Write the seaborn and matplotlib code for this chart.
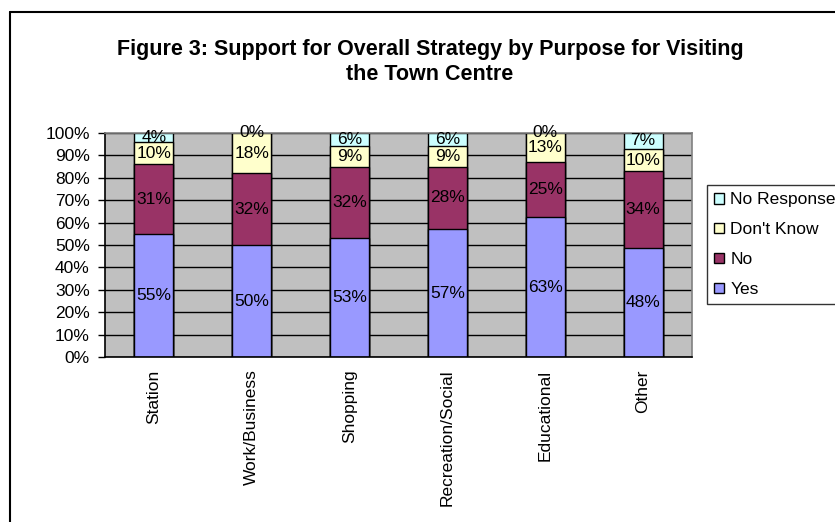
import numpy as np
import pandas as pd
import seaborn as sns
import matplotlib.pyplot as plt
from matplotlib.lines import Line2D
from matplotlib.ticker import PercentFormatter, MultipleLocator, FixedLocator

categories = ["Station", "Work/Business", "Shopping", "Recreation/Social", "Educational", "Other"]
yes = [55, 50, 53, 57, 63, 48]
no = [31, 32, 32, 28, 25, 34]
dont_know = [10, 18, 9, 9, 13, 10]
no_response = [4, 0, 6, 6, 0, 7]

series_names = ["Yes", "No", "Don't Know", "No Response"]
series_colors = ["#9999FF", "#993366", "#FFFFCC", "#CCFFFF"]

sns.set_style("white")
plt.rcParams['font.family'] = ['Liberation Sans', 'DejaVu Sans']
plt.rcParams['text.color'] = 'black'
plt.rcParams['xtick.color'] = 'black'
plt.rcParams['ytick.color'] = 'black'
plt.rcParams['xtick.labelcolor'] = 'black'
plt.rcParams['ytick.labelcolor'] = 'black'

FS = 12.5

df = pd.DataFrame({"Yes": yes, "No": no, "Don't Know": dont_know, "No Response": no_response},
                  index=categories)
# 100% stacked: normalise each row
share = df.div(df.sum(axis=1), axis=0) * 100
cum = share.cumsum(axis=1)

fig = plt.figure(figsize=(8.35, 5.22), dpi=100)
ax = fig.add_axes([105 / 835, 1 - 357 / 522, 587 / 835, 224 / 522])
ax.set_facecolor("#C0C0C0")

# draw tallest cumulative first so lower segments sit on top
for name, color in reversed(list(zip(series_names, series_colors))):
    sns.barplot(x=categories, y=cum[name].values, color=color, edgecolor="black",
                linewidth=1, width=0.4, ax=ax, label=name, saturation=1)

# segment labels
for i, cat in enumerate(categories):
    for name in series_names:
        top = cum.loc[cat, name]
        center = top - share.loc[cat, name] / 2
        ax.text(i, center, f"{df.loc[cat, name]}%", ha="center", va="center",
                fontsize=FS, color="black")

ax.set_ylim(0, 100)
ax.set_xlim(-0.5, len(categories) - 0.5)
ax.yaxis.set_major_locator(MultipleLocator(10))
ax.yaxis.set_major_formatter(PercentFormatter(decimals=0))
ax.grid(axis="y", color="black", linewidth=1)
ax.set_axisbelow(True)

ax.set_xticks(range(len(categories)))
ax.set_xticklabels(categories, rotation=90, fontsize=FS, va="top", color="black")
ax.tick_params(axis="x", which="major", length=0, pad=9)
ax.xaxis.set_minor_locator(FixedLocator(np.arange(-0.5, len(categories), 1)))
ax.tick_params(axis="x", which="minor", length=4, width=1, color="black", direction="out")
ax.tick_params(axis="y", length=5, width=1, color="black", direction="out", labelsize=FS,
               labelcolor="black", left=True, pad=6)

for side in ["left", "bottom"]:
    ax.spines[side].set_color("black")
    ax.spines[side].set_linewidth(1.2)
for side in ["top", "right"]:
    ax.spines[side].set_color("#808080")
    ax.spines[side].set_linewidth(1.2)

ax.set_xlabel("")
ax.set_ylabel("")
if ax.get_legend() is not None:
    ax.get_legend().remove()

handles = [plt.Rectangle((0, 0), 1, 1, facecolor=c, edgecolor="black", linewidth=1)
           for c in reversed(series_colors)]
leg = fig.legend(handles, list(reversed(series_names)), loc="upper left",
                 bbox_to_anchor=(707 / 835, 1 - 185 / 522), fontsize=FS,
                 frameon=True, fancybox=False, handlelength=0.57, handleheight=0.57,
                 handletextpad=0.35, labelspacing=0.86, borderpad=0.42, borderaxespad=0,
                 labelcolor="black")
leg.get_frame().set_edgecolor("black")
leg.get_frame().set_linewidth(1)

fig.text(430 / 835, 1 - 50 / 522, "Figure 3: Support for Overall Strategy by Purpose for Visiting",
         ha="center", va="center", fontsize=15.5, fontweight="bold", color="black")
fig.text(430 / 835, 1 - 74 / 522, "the Town Centre",
         ha="center", va="center", fontsize=15.5, fontweight="bold", color="black")

# outer chart border (top and left edges visible)
fig.add_artist(Line2D([10 / 835, 10 / 835], [0, 1 - 12 / 522], color="black", linewidth=1.5,
                      transform=fig.transFigure))
fig.add_artist(Line2D([10 / 835, 1], [1 - 12 / 522, 1 - 12 / 522], color="black", linewidth=1.5,
                      transform=fig.transFigure))

fig.savefig("out.png", dpi=100)
plt.close(fig)
